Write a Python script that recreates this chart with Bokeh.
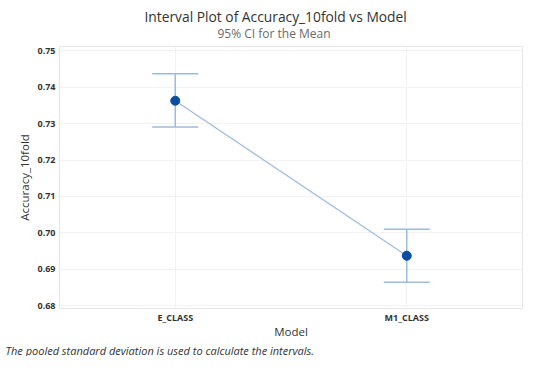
from bokeh.plotting import figure
from bokeh.models import (ColumnDataSource, Whisker, TeeHead, FixedTicker, Title, Range1d, FactorRange)
from bokeh.embed import file_html
from bokeh.resources import INLINE

models = ["E_CLASS", "M1_CLASS"]
means = [0.7363, 0.6937]
upper = [0.7437, 0.7010]
lower = [0.7291, 0.6864]
yticks = [0.68, 0.69, 0.70, 0.71, 0.72, 0.73, 0.74, 0.75]
ytick_labels = ["0.68", "0.69", "0.70", "0.71", "0.72", "0.73", "0.74", "0.75"]

FONT = "Open Sans"
LINE_C = "#9dbbdc"
PT_C = "#0a4ea3"

src = ColumnDataSource(dict(model=models, mean=means, upper=upper, lower=lower))

p = figure(width=534, height=356, x_range=FactorRange(*models),
           y_range=Range1d(0.6792, 0.7512), output_backend="svg",
           toolbar_location=None, min_border_left=59, min_border_right=12,
           min_border_top=46, min_border_bottom=39)
p.x_range.range_padding = 0.0
p.x_range.factor_padding = 0.0

p.title.text = ""
p.title.text_font_size = "1px"
p.title.standoff = 0
p.add_layout(Title(text="95% CI for the Mean", align="left", offset=158, text_font=FONT,
                   text_font_size="12px", text_font_style="normal",
                   text_color="#6b6b6b", standoff=9), "above")
p.add_layout(Title(text="Interval Plot of Accuracy_10fold vs Model", align="left", offset=85,
                   text_font=FONT, text_font_size="13.8px", text_font_style="normal",
                   text_color="#333333", standoff=-14), "above")
p.add_layout(Title(text="The pooled standard deviation is used to calculate the intervals.",
                   align="left", offset=-54, text_font=FONT, text_font_size="11px",
                   text_font_style="italic", text_color="#333333", standoff=-2,
                   text_line_height=1.0), "below")

p.outline_line_color = "#e6e6e6"
p.xgrid.grid_line_color = "#f2f2f2"
p.ygrid.grid_line_color = "#f2f2f2"
p.ygrid.ticker = FixedTicker(ticks=yticks)

p.yaxis.ticker = FixedTicker(ticks=yticks)
p.yaxis.major_label_overrides = {t: l for t, l in zip(yticks, ytick_labels)}
for ax in (p.xaxis[0], p.yaxis[0]):
    ax.axis_line_color = None
    ax.major_tick_line_color = None
    ax.minor_tick_line_color = None
    ax.major_tick_out = 0
    ax.major_tick_in = 0
    ax.major_label_text_font = FONT
    ax.major_label_text_font_size = "9px"
    ax.major_label_text_font_style = "bold"
    ax.major_label_text_color = "#333333"
    ax.major_label_text_line_height = 0.9
    ax.axis_label_text_font = FONT
    ax.axis_label_text_font_size = "11.5px"
    ax.axis_label_text_font_style = "normal"
    ax.axis_label_text_color = "#333333"
    ax.axis_label_text_line_height = 0.9
p.yaxis.axis_label = "Accuracy_10fold"
p.xaxis.axis_label = "Model"
p.yaxis.major_label_standoff = 4
p.yaxis.axis_label_standoff = 2
p.xaxis.major_label_standoff = 2
p.xaxis.axis_label_standoff = -3

w = Whisker(source=src, base="model", upper="upper", lower="lower",
            line_color=LINE_C, line_width=1.5,
            upper_head=TeeHead(size=46, line_color=LINE_C, line_width=1.5),
            lower_head=TeeHead(size=46, line_color=LINE_C, line_width=1.5))
p.add_layout(w)

p.line(x="model", y="mean", source=src, line_color=LINE_C, line_width=1.2)
p.scatter(x="model", y="mean", source=src, size=9, fill_color=PT_C, line_color=PT_C)

open("out.html", "w").write(file_html(p, INLINE))
